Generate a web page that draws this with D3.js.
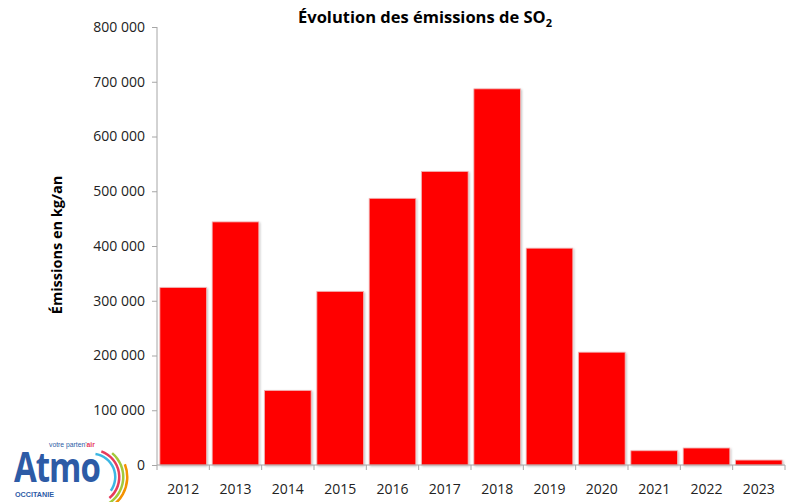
<!DOCTYPE html>
<html><head><meta charset="utf-8">
<script src="https://d3js.org/d3.v7.min.js"></script>
<style>body{margin:0;background:#fff}svg{display:block}</style>
</head><body>
<script>
const years = ["2012","2013","2014","2015","2016","2017","2018","2019","2020","2021","2022","2023"];
const emissions = [324000,444000,136000,317000,487000,536000,687000,396000,206000,26000,31000,9000];
const yTicks = [0,100000,200000,300000,400000,500000,600000,700000,800000];
const titleText = "Évolution des émissions de SO";
const yTitle = "Émissions en kg/an";

const W=792,H=502;
const svg=d3.select("body").append("svg").attr("width",W).attr("height",H);
const font="'Open Sans','Noto Sans',sans-serif";
const x0=157,x1=785,yTop=27,yBot=465;
const x=d3.scaleBand().domain(years).range([x0,x1]).paddingInner(0.11).paddingOuter(0.055);
const y=d3.scaleLinear().domain([0,800000]).range([yBot,yTop]);

const defs=svg.append("defs");
const f=defs.append("filter").attr("id","sh").attr("x","-10%").attr("y","-10%").attr("width","130%").attr("height","130%");
f.append("feDropShadow").attr("dx",1).attr("dy",1).attr("stdDeviation",0.8).attr("flood-color","#000").attr("flood-opacity",0.25);

// bars
svg.append("g").selectAll("rect").data(years).join("rect")
  .attr("x",d=>x(d)).attr("width",x.bandwidth())
  .attr("y",(d,i)=>y(emissions[i])).attr("height",(d,i)=>yBot-y(emissions[i]))
  .attr("fill","#ff0000").attr("stroke","#f2b0b0").attr("stroke-width",0.8)
  .attr("filter","url(#sh)");

// y axis
const fmt=v=>d3.format(",")(v).replace(/,/g," ");
const ya=svg.append("g").attr("transform",`translate(${x0},0)`)
  .call(d3.axisLeft(y).tickValues(yTicks).tickSize(5).tickPadding(7).tickFormat(fmt));
ya.select(".domain").attr("stroke","#a6a6a6").attr("d",`M0,${yTop}V${yBot}`);
ya.selectAll(".tick line").attr("stroke","#a6a6a6");
ya.selectAll("text").attr("font-family",font).attr("font-size",14).attr("fill","#222");

// x axis
const xa=svg.append("g").attr("transform",`translate(0,${yBot})`);
xa.append("line").attr("x1",x0).attr("x2",x1).attr("stroke","#a6a6a6");
const step=(x1-x0)/years.length;
xa.selectAll("line.t").data(d3.range(years.length+1)).join("line").attr("class","t")
  .attr("x1",i=>x0+i*step).attr("x2",i=>x0+i*step).attr("y1",0).attr("y2",5).attr("stroke","#a6a6a6");
xa.selectAll("text").data(years).join("text")
  .attr("x",(d,i)=>x0+(i+0.5)*step).attr("y",29).attr("text-anchor","middle")
  .attr("font-family",font).attr("font-size",14).attr("fill","#222").text(d=>d);

// title
const t=svg.append("text").attr("x",425).attr("y",23).attr("text-anchor","middle")
  .attr("font-family",font).attr("font-weight","bold").attr("font-size",16.5).attr("fill","#000");
t.append("tspan").text(titleText);
t.append("tspan").attr("font-size",11).attr("dy",4).text("2");

// y title
svg.append("text").attr("transform","translate(62,245) rotate(-90)").attr("text-anchor","middle")
  .attr("font-family",font).attr("font-weight","bold").attr("font-size",14.5).attr("fill","#000").text(yTitle);

// logo
const lg=svg.append("g");
lg.append("text").attr("transform","translate(14,482) scale(1,1.22)").attr("font-family","'Open Sans',Arial,sans-serif").attr("font-weight","bold")
  .attr("font-size",33).attr("fill","#2d5ba6").attr("letter-spacing",-1).text("Atmo");
const vp=lg.append("text").attr("x",49).attr("y",447).attr("font-family","Arial,sans-serif").attr("font-size",6.8).attr("fill","#2d5ba6");
vp.append("tspan").text("votre parten'");
vp.append("tspan").attr("font-weight","bold").attr("fill","#e63b5c").text("air");
lg.append("text").attr("x",15).attr("y",497).attr("font-family","Arial,sans-serif").attr("font-weight","bold").attr("font-size",7.2).attr("fill","#2d5ba6").text("OCCITANIE");
const arc=d3.arc();
const cx=92,cy=477;
[[22,24.5,0.15,2.2,"#3cb6e3"],[26,28.5,0.35,2.45,"#e63b5c"],[30,32.5,0.7,2.65,"#a3c93a"],[34,36.5,1.2,2.95,"#f39200"]].forEach(a=>{
  lg.append("path").attr("transform",`translate(${cx},${cy})`)
    .attr("d",arc({innerRadius:a[0],outerRadius:a[1],startAngle:a[2],endAngle:a[3]})).attr("fill",a[4]);
});
</script>
</body></html>
